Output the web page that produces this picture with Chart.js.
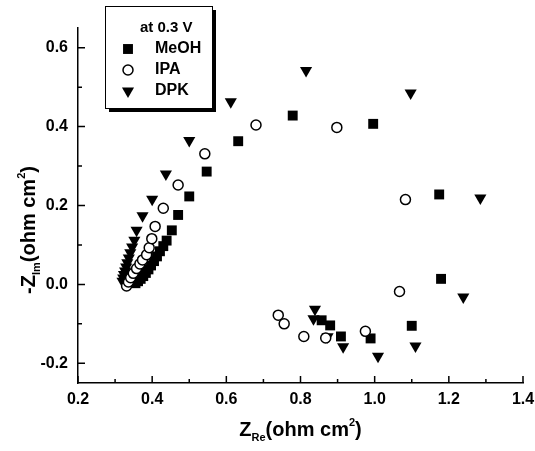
<!DOCTYPE html>
<html>
<head>
<meta charset="utf-8">
<script src="https://cdn.jsdelivr.net/npm/chart.js@4"></script>
<style>
  html, body { margin: 0; padding: 0; background: #fff; }
  #wrap { width: 535px; height: 451px; }
</style>
</head>
<body>
<div id="wrap"><canvas id="chart" width="535" height="451"></canvas></div>
<script>
"use strict";

// Nyquist data (ohm cm2)
const seriesNames = ["MeOH", "IPA", "DPK"];
const legendTitle = "at 0.3 V";

const meohRe = [0.355, 0.362, 0.369, 0.376, 0.383, 0.390, 0.397, 0.405, 0.413, 0.421, 0.430, 0.439, 0.453, 0.470, 0.500, 0.547, 0.632, 0.779, 0.996, 1.174, 1.179, 1.100, 0.989, 0.909, 0.880, 0.857];
const meohIm = [0.003, 0.008, 0.014, 0.021, 0.029, 0.038, 0.048, 0.059, 0.071, 0.084, 0.097, 0.111, 0.137, 0.176, 0.223, 0.286, 0.363, 0.428, 0.407, 0.228, 0.014, -0.105, -0.137, -0.132, -0.104, -0.091];

const ipaRe = [0.331, 0.336, 0.342, 0.349, 0.358, 0.367, 0.374, 0.385, 0.392, 0.399, 0.408, 0.430, 0.470, 0.542, 0.680, 0.898, 1.083, 1.067, 0.975, 0.868, 0.809, 0.756, 0.740];
const ipaIm = [-0.004, 0.006, 0.017, 0.028, 0.040, 0.052, 0.062, 0.075, 0.093, 0.116, 0.147, 0.193, 0.252, 0.331, 0.404, 0.398, 0.215, -0.018, -0.119, -0.136, -0.132, -0.100, -0.078];

const dpkRe = [0.320, 0.322, 0.324, 0.327, 0.330, 0.333, 0.337, 0.341, 0.346, 0.352, 0.358, 0.374, 0.400, 0.437, 0.500, 0.612, 0.815, 1.097, 1.285, 1.239, 1.110, 1.009, 0.915, 0.873, 0.835, 0.839];
const dpkIm = [0.008, 0.016, 0.025, 0.034, 0.044, 0.055, 0.067, 0.080, 0.095, 0.112, 0.137, 0.174, 0.216, 0.280, 0.365, 0.463, 0.542, 0.485, 0.219, -0.032, -0.156, -0.182, -0.158, -0.133, -0.087, -0.063];

const xTicks = [0.2, 0.4, 0.6, 0.8, 1.0, 1.2, 1.4];
const xMinor = [0.3, 0.5, 0.7, 0.9, 1.1, 1.3];
const yTicks = [-0.2, 0.0, 0.2, 0.4, 0.6];
const yMinor = [-0.1, 0.1, 0.3, 0.5];

const FONT = "'Liberation Sans', Arial, Helvetica, sans-serif";

function pts(re, im) {
  return re.map((x, i) => ({ x: x, y: im[i] }));
}

// draws text made of runs (normal / sub / sup) centred on x
function drawRuns(ctx, runs, x, y) {
  let total = 0;
  runs.forEach(r => {
    ctx.font = "bold " + r.size + "px " + FONT;
    r.w = ctx.measureText(r.t).width;
    total += r.w;
  });
  let cx = x - total / 2;
  ctx.textAlign = "left";
  ctx.textBaseline = "alphabetic";
  runs.forEach(r => {
    ctx.font = "bold " + r.size + "px " + FONT;
    ctx.fillText(r.t, cx, y + (r.dy || 0));
    cx += r.w;
  });
}

const decor = {
  id: "decor",
  afterDraw(chart) {
    const ctx = chart.ctx;
    const xs = chart.scales.x;
    const ys = chart.scales.y;
    const a = chart.chartArea;
    ctx.save();
    ctx.strokeStyle = "#000";
    ctx.fillStyle = "#000";
    ctx.lineWidth = 1.5;

    // inward ticks
    ctx.beginPath();
    xTicks.forEach(v => { const p = xs.getPixelForValue(v); ctx.moveTo(p, a.bottom); ctx.lineTo(p, a.bottom - 7); });
    xMinor.forEach(v => { const p = xs.getPixelForValue(v); ctx.moveTo(p, a.bottom); ctx.lineTo(p, a.bottom - 4); });
    yTicks.forEach(v => { const p = ys.getPixelForValue(v); ctx.moveTo(a.left, p); ctx.lineTo(a.left + 7, p); });
    yMinor.forEach(v => { const p = ys.getPixelForValue(v); ctx.moveTo(a.left, p); ctx.lineTo(a.left + 4, p); });
    ctx.stroke();

    // axis titles
    drawRuns(ctx, [
      { t: "Z", size: 20 },
      { t: "Re", size: 11, dy: 5 },
      { t: "(ohm cm", size: 20 },
      { t: "2", size: 11, dy: -10 },
      { t: ")", size: 20 }
    ], (a.left + a.right) / 2, 436);

    ctx.save();
    ctx.translate(35, 230);
    ctx.rotate(-Math.PI / 2);
    drawRuns(ctx, [
      { t: "-Z", size: 20 },
      { t: "Im", size: 11, dy: 5 },
      { t: "(ohm cm", size: 20 },
      { t: "2", size: 11, dy: -10 },
      { t: ")", size: 20 }
    ], 0, 0);
    ctx.restore();

    // legend box with shadow
    const L = 105, T = 6, R = 212, B = 108;
    ctx.fillRect(R, T + 4, 4, B - T);
    ctx.fillRect(L + 4, B, R - L, 4);
    ctx.fillStyle = "#fff";
    ctx.fillRect(L, T, R - L, B - T);
    ctx.lineWidth = 1;
    ctx.strokeRect(L + 0.5, T + 0.5, R - L, B - T);

    ctx.fillStyle = "#000";
    ctx.font = "bold 15px " + FONT;
    ctx.textAlign = "left";
    ctx.textBaseline = "middle";
    ctx.fillText(legendTitle, 140, 28);
    chart.data.datasets.forEach((ds, i) => {
      const y = 49 + i * 21;
      ctx.fillStyle = ds.backgroundColor;
      ctx.strokeStyle = ds.borderColor;
      ctx.lineWidth = ds.borderWidth;
      Chart.helpers.drawPoint(ctx, {
        pointStyle: ds.pointStyle,
        rotation: ds.pointRotation || 0,
        radius: ds.pointRadius,
        borderWidth: ds.borderWidth
      }, 128, y);
      ctx.fillStyle = "#000";
      ctx.font = "bold 16px " + FONT;
      ctx.fillText(ds.label, 155, y);
    });
    ctx.restore();
  }
};

new Chart(document.getElementById("chart"), {
  type: "scatter",
  data: {
    datasets: [
      { label: seriesNames[0], data: pts(meohRe, meohIm), pointStyle: "rect", pointRadius: 7,
        backgroundColor: "#000", borderColor: "#000", borderWidth: 0, order: 1 },
      { label: seriesNames[1], data: pts(ipaRe, ipaIm), pointStyle: "circle", pointRadius: 5,
        backgroundColor: "#fff", borderColor: "#000", borderWidth: 1.5, order: 0 },
      { label: seriesNames[2], data: pts(dpkRe, dpkIm), pointStyle: "triangle", pointRotation: 180, pointRadius: 7,
        backgroundColor: "#000", borderColor: "#000", borderWidth: 0, order: 2 }
    ]
  },
  options: {
    responsive: false,
    animation: false,
    events: [],
    layout: { padding: { top: 28, right: 12, left: 0, bottom: 0 } },
    plugins: { legend: { display: false }, tooltip: { enabled: false } },
    scales: {
      x: {
        type: "linear",
        min: 0.2,
        max: 1.4,
        afterBuildTicks: s => { s.ticks = xTicks.map(v => ({ value: v })); },
        afterFit: s => { s.height = 68; s.paddingRight = 0; s.paddingLeft = 0; },
        grid: { display: false, drawTicks: false },
        border: { display: true, color: "#000", width: 1.5 },
        ticks: {
          padding: 7,
          color: "#000",
          maxRotation: 0,
          font: { family: FONT, size: 16, weight: "bold" },
          callback: v => v.toFixed(1)
        }
      },
      y: {
        type: "linear",
        min: -0.25,
        max: 0.65,
        afterBuildTicks: s => { s.ticks = yTicks.map(v => ({ value: v })); },
        afterFit: s => { s.width = 78; },
        grid: { display: false, drawTicks: false },
        border: { display: true, color: "#000", width: 1.5 },
        ticks: {
          padding: 10,
          color: "#000",
          font: { family: FONT, size: 16, weight: "bold" },
          callback: v => v.toFixed(1)
        }
      }
    }
  },
  plugins: [decor]
});
</script>
</body>
</html>
